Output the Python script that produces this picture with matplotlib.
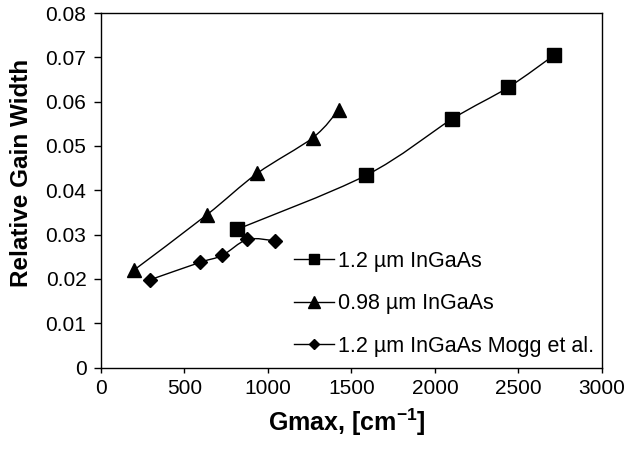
import numpy as np
import matplotlib
matplotlib.use("Agg")
import matplotlib.pyplot as plt
from matplotlib.path import Path
from matplotlib.patches import PathPatch

plt.rcParams["font.family"] = ["Liberation Sans", "DejaVu Sans"]
plt.rcParams["mathtext.fontset"] = "custom"
plt.rcParams["mathtext.rm"] = "Liberation Sans"
plt.rcParams["mathtext.bf"] = "Liberation Sans:bold"

# values
gmax_12 = [816, 1589, 2104, 2438, 2714]
width_12 = [0.0312, 0.0434, 0.0561, 0.0632, 0.0705]

gmax_098 = [198, 632, 935, 1270, 1425]
width_098 = [0.0220, 0.0344, 0.0438, 0.0519, 0.0582]

gmax_mogg = [294, 591, 726, 877, 1041]
width_mogg = [0.0198, 0.0237, 0.0253, 0.0289, 0.0286]

labels = ["1.2 \u00b5m InGaAs", "0.98 \u00b5m InGaAs", "1.2 \u00b5m InGaAs Mogg et al."]
xticks = [0, 500, 1000, 1500, 2000, 2500, 3000]
yticks = [0, 0.01, 0.02, 0.03, 0.04, 0.05, 0.06, 0.07, 0.08]


def smooth_path(x, y, t=1 / 6):
    """Excel-style smoothed line: Catmull-Rom tangents turned into cubic Bezier segments."""
    pts = np.column_stack([x, y]).astype(float)
    verts = [pts[0]]
    codes = [Path.MOVETO]
    n = len(pts)
    for i in range(n - 1):
        p0 = pts[max(i - 1, 0)]
        p1 = pts[i]
        p2 = pts[i + 1]
        p3 = pts[min(i + 2, n - 1)]
        c1 = p1 + (p2 - p0) * t
        c2 = p2 - (p3 - p1) * t
        verts += [c1, c2, p2]
        codes += [Path.CURVE4] * 3
    return Path(verts, codes)


fig = plt.figure(figsize=(6.26, 4.5), dpi=100)
ax = fig.add_axes([0.1613, 0.1833, 0.8003, 0.7878])

series = [
    (gmax_12, width_12, "s", 9.5),
    (gmax_098, width_098, "^", 10),
    (gmax_mogg, width_mogg, "D", 7),
]
for (x, y, m, ms), lab in zip(series, labels):
    ax.add_patch(PathPatch(smooth_path(x, y), fill=False, edgecolor="black", lw=1.0))
    ax.plot(x, y, linestyle="none", marker=m, ms=ms, color="black")
    # legend proxy
    ax.plot([], [], "-", marker=m, ms=ms, color="black", lw=1.0, label=lab)

ax.set_xlim(0, 3000)
ax.set_ylim(0, 0.08)
ax.set_xticks(xticks)
ax.set_yticks(yticks)
ax.set_xticklabels([str(v) for v in xticks])
ax.set_yticklabels(["0"] + [f"{v:.2f}" for v in yticks[1:]])
ax.tick_params(direction="out", width=1, labelsize=15, top=False, right=False)
ax.tick_params(axis="x", length=3.6, pad=4.5)
ax.tick_params(axis="y", length=5, pad=5.5)
for s in ax.spines.values():
    s.set_linewidth(1.0)

ax.set_xlabel("Gmax, [cm$^{\\mathbf{-1}}$]", fontsize=18, fontweight="bold", va="top")
ax.xaxis.set_label_coords(0.49, -0.109)
ax.set_ylabel("Relative Gain Width", fontsize=17.5, fontweight="bold")
ax.yaxis.set_label_coords(-0.136, 0.549)

ax.legend(loc="upper left", bbox_to_anchor=(0.385, 0.329), frameon=False,
          borderaxespad=0, borderpad=0,
          fontsize=15.5, handlelength=1.86, handletextpad=0.2, labelspacing=1.0,
          markerscale=0.8)

fig.savefig("out.png", dpi=100)
